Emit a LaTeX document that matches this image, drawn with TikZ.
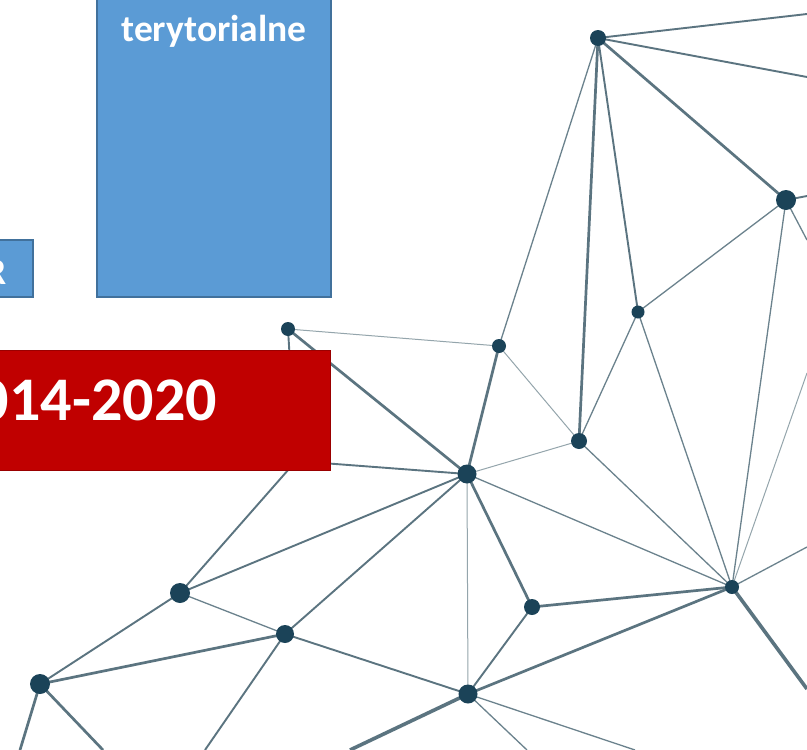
\documentclass[tikz,border=0pt]{standalone}
\usepackage{fontspec}
\setmainfont{Carlito}
\definecolor{edgecol}{HTML}{5B7480}
\definecolor{dotcol}{HTML}{1B4358}
\definecolor{boxblue}{HTML}{5B9BD5}
\definecolor{boxblueline}{HTML}{41719C}
\definecolor{boxred}{HTML}{C00000}
\definecolor{boxredline}{HTML}{9A0000}
\tikzset{
  dot/.style={circle,fill=dotcol,inner sep=0pt,minimum size=#1},
  hair/.style={draw=edgecol!65,line width=1pt},
  fine/.style={draw=edgecol!90,line width=1.3pt},
  mid/.style={draw=edgecol,line width=1.9pt},
  heavy/.style={draw=edgecol,line width=2.7pt},
  vheavy/.style={draw=edgecol,line width=3.6pt},
  bluebox/.style={fill=boxblue,draw=boxblueline,line width=2pt},
  redbox/.style={fill=boxred,draw=boxredline,line width=1pt},
  boxtext/.style={text=white,font=\bfseries\fontsize{37.5}{44}\selectfont,inner sep=0pt}
}
\begin{document}
\begin{tikzpicture}[x=1pt,y=-1pt]
\useasboundingbox (0,0) rectangle (807,750);
\fill[white] (0,0) rectangle (807,750);
% free ends and the joint hidden by the red box
\coordinate (hid) at (296,461);
\coordinate (e1) at (807,14);
\coordinate (e2) at (807,77);
\coordinate (e3) at (807,196);
\coordinate (e4) at (807,240);
\coordinate (e5) at (807,373);
\coordinate (e6) at (807,547);
\coordinate (e7) at (807,689);
\coordinate (b1) at (20,750);
\coordinate (b2) at (103,750);
\coordinate (b3) at (205,750);
\coordinate (b4) at (350,750);
\coordinate (b5) at (527,750);
\coordinate (b6) at (635,750);
% dots are placed first as named anchors
\coordinate (A) at (598,38);
\coordinate (B) at (786,200);
\coordinate (C) at (638,312);
\coordinate (D) at (579,441);
\coordinate (E) at (499,346);
\coordinate (F) at (288,329);
\coordinate (G) at (467,474);
\coordinate (H) at (732,587);
\coordinate (I) at (532,607);
\coordinate (J) at (468,694);
\coordinate (K) at (285,634);
\coordinate (L) at (180,593);
\coordinate (M) at (40,684);
\path[mid] (A) -- (e1);
\path[mid] (A) -- (e2);
\path[heavy] (A) -- (B);
\path[fine] (A) -- (E);
\path[heavy] (A) -- (D);
\path[mid] (A) -- (C);
\path[mid] (B) -- (e3);
\path[fine] (B) -- (e4);
\path[fine] (B) -- (C);
\path[fine] (B) -- (H);
\path[hair] (H) -- (e5);
\path[fine] (H) -- (e6);
\path[vheavy] (H) -- (e7);
\path[fine] (H) -- (C);
\path[fine] (H) -- (D);
\path[fine] (H) -- (G);
\path[heavy] (H) -- (I);
\path[heavy] (H) -- (J);
\path[fine] (C) -- (D);
\path[hair] (E) -- (D);
\path[hair] (G) -- (D);
\path[hair] (E) -- (F);
\path[heavy] (G) -- (E);
\path[heavy] (G) -- (F);
\path[hair] (G) -- (J);
\path[heavy] (G) -- (I);
\path[mid] (G) -- (L);
\path[mid] (G) -- (K);
\path[mid] (G) -- (hid);
\path[mid] (F) -- (hid);
\path[mid] (L) -- (hid);
\path[fine] (L) -- (K);
\path[mid] (L) -- (M);
\path[heavy] (K) -- (M);
\path[mid] (K) -- (J);
\path[mid] (K) -- (b3);
\path[mid] (I) -- (J);
\path[heavy] (M) -- (b1);
\path[heavy] (M) -- (b2);
\path[vheavy] (J) -- (b4);
\path[fine] (J) -- (b5);
\path[fine] (J) -- (b6);
% dots on top of the lines
\node[dot=16] (nA) at (A) {};
\node[dot=20] (nB) at (B) {};
\node[dot=13] (nC) at (C) {};
\node[dot=16] (nD) at (D) {};
\node[dot=14] (nE) at (E) {};
\node[dot=14] (nF) at (F) {};
\node[dot=19] (nG) at (G) {};
\node[dot=14] (nH) at (H) {};
\node[dot=16] (nI) at (I) {};
\node[dot=19] (nJ) at (J) {};
\node[dot=18] (nK) at (K) {};
\node[dot=20] (nL) at (L) {};
\node[dot=20] (nM) at (M) {};
% boxes
\path[bluebox] (97,-5) rectangle (330.5,297);
\path[bluebox] (-5,239.5) rectangle (32.5,297);
\path[redbox] (-5,350) rectangle (330.5,470);
\node[boxtext,anchor=base] (t1) at (214,41) {terytorialne};
\node[boxtext,anchor=base east] (t2) at (7,284) {R};
\node[boxtext,anchor=base east,font=\bfseries\fontsize{62}{70}\selectfont] (t3) at (217,420) {2014-2020};
\end{tikzpicture}
\end{document}
